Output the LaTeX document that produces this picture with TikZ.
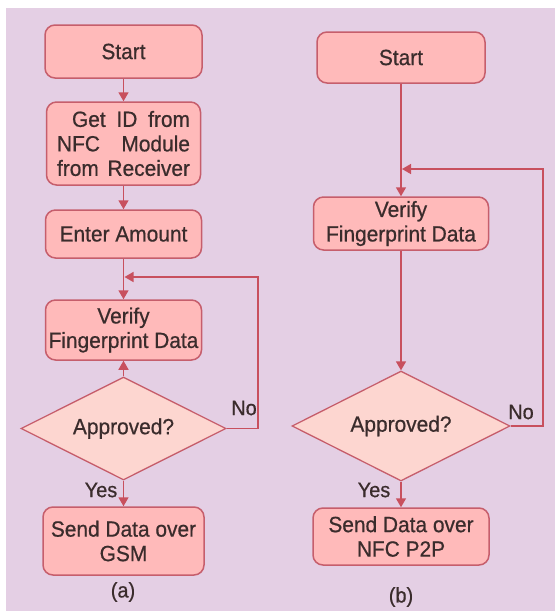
\documentclass[tikz,border=0pt]{standalone}
\usepackage{fontspec}
\setmainfont{Liberation Sans}[FakeStretch=0.95,FakeBold=0.6]
\usetikzlibrary{shapes.geometric,arrows.meta}
\definecolor{bglav}{HTML}{E4CFE4}
\definecolor{boxfill}{HTML}{FFBABA}
\definecolor{diafill}{HTML}{FDD6D0}
\definecolor{edgecol}{HTML}{C65E6C}
\definecolor{linecol}{HTML}{C8505E}
\definecolor{txtcol}{HTML}{3A2C2C}
\tikzset{
  stepbox/.style={draw=edgecol, line width=1.5pt, fill=boxfill, rounded corners=10pt,
    inner sep=0pt, align=center, text=txtcol, font=\fontsize{22}{24.5}\selectfont},
  decbox/.style={draw=edgecol, line width=1.3pt, fill=diafill, shape=diamond, inner sep=0pt,
    text=txtcol, font=\fontsize{22}{24}\selectfont},
  flow/.style={draw=linecol, line width=1.5pt, -{Triangle[width=10pt,length=9pt]}},
  lbl/.style={text=txtcol, font=\fontsize{21}{22}\selectfont, inner sep=0pt}
}
\begin{document}
\begin{tikzpicture}[x=1pt,y=-1pt]
\useasboundingbox (0,0) rectangle (555,611);
\fill[white] (0,0) rectangle (555,611);
\fill[bglav] (6,8) rectangle (555,611);

% ---------- (a) ----------
\node[stepbox, minimum width=157pt, minimum height=53pt] (sA) at (123.5,51.5) {Start};
\node[stepbox, minimum width=154pt, minimum height=83pt] (gA) at (123.5,143.5)
  {\hspace*{15pt}\makebox[118pt][s]{Get ID from}\\\makebox[133pt][s]{NFC Module}\\\makebox[133pt][s]{from Receiver}};
\node[stepbox, minimum width=156pt, minimum height=48pt] (eA) at (123.5,234) {Enter Amount};
\node[stepbox, minimum width=156pt, minimum height=60pt] (vA) at (123.5,330) {Verify\\Fingerprint Data};
\node[decbox, minimum width=205pt, minimum height=103pt] (dA) at (123.5,428.5) {\makebox[0pt]{Approved?}};
\node[stepbox, minimum width=161pt, minimum height=68pt] (tA) at (123.5,541) {Send Data over\\GSM};
\node[lbl] (labA) at (123,592) {(a)};
\coordinate (jA) at (123.5,277);
\coordinate (rA) at (258,277);

\draw[flow] (sA) -- (gA);
\draw[flow] (gA) -- (eA);
\draw[flow] (eA) -- (vA);
\draw[flow] (dA.north) -- (vA.south);
\draw[flow] (dA.south) -- (tA.north);
\draw[flow] (dA.east) -| (rA) -- ([xshift=1pt]jA);
\node[lbl] (noA) at (244,408) {No};
\node[lbl] (yesA) at (101,490) {Yes};

% ---------- (b) ----------
\node[stepbox, minimum width=168pt, minimum height=51pt] (sB) at (401,57.5) {Start};
\node[stepbox, minimum width=175pt, minimum height=53pt] (vB) at (401,223.5) {Verify\\Fingerprint Data};
\node[decbox, minimum width=218pt, minimum height=110pt] (dB) at (401,426) {\makebox[0pt]{Approved?}};
\node[stepbox, minimum width=176pt, minimum height=57pt] (tB) at (401,536.5) {Send Data over\\NFC P2P};
\node[lbl] (labB) at (401,597) {(b)};
\coordinate (jB) at (401,169);
\coordinate (rB) at (543,169);

\draw[flow] (sB) -- (vB);
\draw[flow] (vB) -- (dB.north);
\draw[flow] (dB.south) -- (tB.north);
\draw[flow] (dB.east) -| (rB) -- ([xshift=1pt]jB);
\node[lbl] (noB) at (521,412) {No};
\node[lbl] (yesB) at (374,490) {Yes};
\end{tikzpicture}
\end{document}
